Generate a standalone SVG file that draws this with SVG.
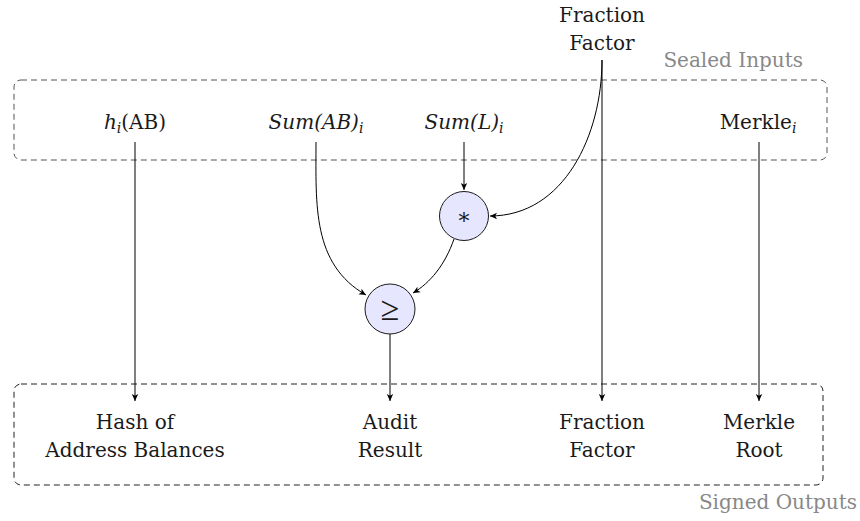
<svg xmlns="http://www.w3.org/2000/svg" width="860" height="521" viewBox="0 0 860 521">
<style>
text{font-family:"DejaVu Serif","Liberation Serif",serif;font-size:20px;fill:#1a1a1a}
.lbl{text-anchor:middle}
.grey{fill:#888888}
.sub{font-size:14px;font-style:italic}
.it{font-style:italic}
.box{fill:none;stroke-width:1;stroke-dasharray:6 4}
.op{fill:#e6e6ff;stroke:#1a1a1a;stroke-width:1}
.edge{fill:none;stroke:#000;stroke-width:1}
.sym{font-family:"Liberation Serif","DejaVu Serif",serif}
</style>
<defs>
<marker id="arr" viewBox="-8 -4 9 8" refX="0" refY="0" markerWidth="9" markerHeight="8" markerUnits="userSpaceOnUse" orient="auto">
<path d="M0,0 L-7,-3.2 L-5.2,0 L-7,3.2 Z" fill="#000"/>
</marker>
</defs>
<g id="sealed-inputs">
<rect class="box" x="14" y="80" width="813" height="80" rx="7" stroke="#555"/>
<text class="grey" x="803" y="67" text-anchor="end">Sealed Inputs</text>
</g>
<g id="signed-outputs">
<rect class="box" x="14" y="384" width="809" height="101" rx="7" stroke="#222"/>
<text class="grey" x="857" y="509" text-anchor="end">Signed Outputs</text>
</g>
<g id="fraction-factor-in"><text class="lbl" x="602" y="22">Fraction</text><text class="lbl" x="602" y="50">Factor</text></g>
<g id="hash-in"><text class="lbl" x="135" y="129"><tspan class="it">h</tspan><tspan class="sub" dy="4">i</tspan><tspan dy="-4">(AB)</tspan></text></g>
<g id="sumab-in"><text class="lbl" x="316" y="129"><tspan class="it">Sum(AB)</tspan><tspan class="sub" dy="4">i</tspan></text></g>
<g id="suml-in"><text class="lbl" x="464" y="129"><tspan class="it">Sum(L)</tspan><tspan class="sub" dy="4">i</tspan></text></g>
<g id="merkle-in"><text class="lbl" x="758" y="129">Merkle<tspan class="sub" dy="4">i</tspan></text></g>
<g id="mul"><circle class="op" cx="464" cy="216" r="24.5"/><text class="lbl" x="464" y="224" style="font-size:22px">∗</text></g>
<g id="geq"><circle class="op" cx="390" cy="309" r="25"/><text class="lbl sym" x="390" y="320" style="font-size:34px">≥</text></g>
<g id="hash-out"><text class="lbl" x="135" y="429">Hash of</text><text class="lbl" x="135" y="457">Address Balances</text></g>
<g id="audit-out"><text class="lbl" x="390" y="429">Audit</text><text class="lbl" x="390" y="457">Result</text></g>
<g id="fraction-out"><text class="lbl" x="602" y="429">Fraction</text><text class="lbl" x="602" y="457">Factor</text></g>
<g id="merkle-out"><text class="lbl" x="759" y="429">Merkle</text><text class="lbl" x="759" y="457">Root</text></g>
<g id="connectors">
<path class="edge" d="M135,142 L135,401" marker-end="url(#arr)"/>
<path class="edge" d="M316,142 C316,205 312,264 366,295" marker-end="url(#arr)"/>
<path class="edge" d="M464,142 L464,190" marker-end="url(#arr)"/>
<path class="edge" d="M602,60 C602,135 564,216 490,216" marker-end="url(#arr)"/>
<path class="edge" d="M602,60 L602,401" marker-end="url(#arr)"/>
<path class="edge" d="M454,239 C445,265 430,283 413,293" marker-end="url(#arr)"/>
<path class="edge" d="M390,334 L390,401" marker-end="url(#arr)"/>
<path class="edge" d="M759,142 L759,401" marker-end="url(#arr)"/>
</g>
</svg>
